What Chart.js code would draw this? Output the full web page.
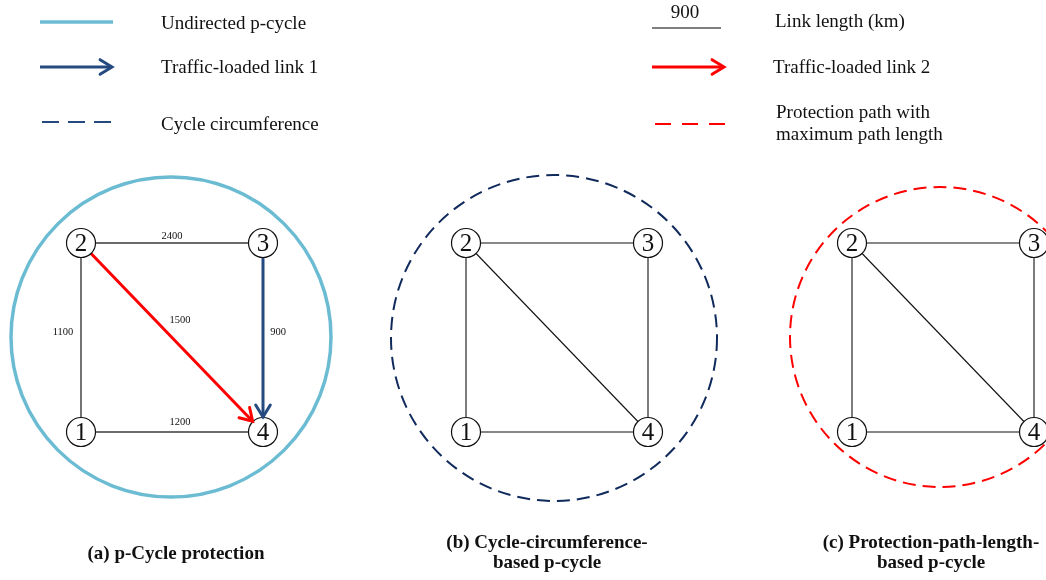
<!DOCTYPE html>
<html>
<head>
<meta charset="utf-8">
<script src="https://cdn.jsdelivr.net/npm/chart.js@4.4.1/dist/chart.umd.min.js"></script>
<style>
  html, body { margin: 0; padding: 0; background: #fff; }
  #wrap { width: 1046px; height: 580px; }
</style>
</head>
<body>
<div id="wrap"><canvas id="diagram"></canvas></div>
<script>
// network: 4 nodes, drawn three times (one per panel)
const nodeLabels = ["1", "2", "3", "4"];
const nodeX = [81, 81, 263, 263];
const nodeY = [432, 243, 243, 432];
const panelShift = [0, 385, 771];
const nodeRadius = 14.5;

const links = [[1, 2], [2, 3], [3, 4], [1, 4], [2, 4]];
const linkLengths = [1100, 2400, 900, 1200, 1500];
const linkLabelX = [63, 172, 278, 180, 180];
const linkLabelY = [332, 236, 332, 422, 320];
const trafficLink1 = [3, 4];
const trafficLink2 = [2, 4];

// p-cycles
const cycleCenterX = [171, 554, 940];
const cycleCenterY = [337, 338, 337];
const cycleRadius = [160, 163, 150];

const captions = [
  ["(a) p-Cycle protection"],
  ["(b) Cycle-circumference-", "based p-cycle"],
  ["(c) Protection-path-length-", "based p-cycle"],
];
const captionX = [176, 547, 931];
const captionBase = [[559], [548, 568], [548, 568]];

const legendLeft = ["Undirected p-cycle", "Traffic-loaded link 1", "Cycle circumference"];
const legendLeftBase = [29, 73, 130];
const legendRight = ["Link length (km)", "Traffic-loaded link 2", "Protection path with", "maximum path length"];
const legendRightX = [775, 773, 776, 776];
const legendRightBase = [27, 73, 118, 140];

const CYAN = "#6bbcd3";
const NAVY = "#244a80";
const DARK_NAVY = "#102a5c";
const RED = "#ff0000";

const pt = (n, p) => ({ x: nodeX[n - 1] + panelShift[p], y: nodeY[n - 1] });

// segment between two nodes, trimmed to node borders
function trimmed(a, b, p) {
  const s = pt(a, p), e = pt(b, p);
  const len = Math.hypot(e.x - s.x, e.y - s.y);
  const ux = (e.x - s.x) / len, uy = (e.y - s.y) / len;
  return [
    { x: s.x + ux * nodeRadius, y: s.y + uy * nodeRadius },
    { x: e.x - ux * (nodeRadius + 0.5), y: e.y - uy * (nodeRadius + 0.5) },
  ];
}

const isSame = (l, t) => l[0] === t[0] && l[1] === t[1];

const datasets = [];

// node circles (on top)
const nodePoints = [];
panelShift.forEach((_, p) => nodeLabels.forEach((_, i) => nodePoints.push(pt(i + 1, p))));
datasets.push({
  data: nodePoints,
  pointRadius: nodeRadius,
  pointBackgroundColor: "#fff",
  pointBorderColor: "#111",
  pointBorderWidth: 1.2,
  order: 0,
});

// plain links
panelShift.forEach((_, p) => {
  links.forEach((l) => {
    if (p === 0 && (isSame(l, trafficLink1) || isSame(l, trafficLink2))) return;
    datasets.push({
      data: [pt(l[0], p), pt(l[1], p)],
      showLine: true,
      pointRadius: 0,
      borderColor: p === 0 ? "#3a3a3a" : "#111",
      borderWidth: p === 0 ? 1.4 : 1.1,
      order: 5,
    });
  });
});

// traffic-loaded links (arrows)
datasets.push({
  data: trimmed(trafficLink1[0], trafficLink1[1], 0),
  showLine: true, pointRadius: 0, borderColor: NAVY, borderWidth: 3, order: 3, arrow: true,
});
datasets.push({
  data: trimmed(trafficLink2[0], trafficLink2[1], 0),
  showLine: true, pointRadius: 0, borderColor: RED, borderWidth: 3, order: 3, arrow: true,
});

// legend samples
datasets.push({ data: [{ x: 40, y: 22 }, { x: 113, y: 22 }], showLine: true, pointRadius: 0, borderColor: CYAN, borderWidth: 3.5, order: 5 });
datasets.push({ data: [{ x: 40, y: 67 }, { x: 112, y: 67 }], showLine: true, pointRadius: 0, borderColor: NAVY, borderWidth: 3, order: 5, arrow: true });
datasets.push({ data: [{ x: 42, y: 122 }, { x: 116, y: 122 }], showLine: true, pointRadius: 0, borderColor: NAVY, borderWidth: 2, borderDash: [17, 9], order: 5 });
datasets.push({ data: [{ x: 652, y: 28 }, { x: 721, y: 28 }], showLine: true, pointRadius: 0, borderColor: "#555", borderWidth: 1.5, order: 5 });
datasets.push({ data: [{ x: 652, y: 67 }, { x: 724, y: 67 }], showLine: true, pointRadius: 0, borderColor: RED, borderWidth: 3, order: 5, arrow: true });
datasets.push({ data: [{ x: 655, y: 124 }, { x: 728, y: 124 }], showLine: true, pointRadius: 0, borderColor: RED, borderWidth: 2, borderDash: [16, 11], order: 5 });

const diagramPlugin = {
  id: "diagram",
  beforeDatasetsDraw(chart) {
    const { ctx, scales: { x, y } } = chart;
    const styles = [
      { color: CYAN, width: 3.5, dash: [] },
      { color: DARK_NAVY, width: 2, dash: [13, 7] },
      { color: RED, width: 2, dash: [13, 7] },
    ];
    ctx.save();
    cycleCenterX.forEach((cx, i) => {
      const px = x.getPixelForValue(cx), py = y.getPixelForValue(cycleCenterY[i]);
      const r = x.getPixelForValue(cx + cycleRadius[i]) - px;
      ctx.beginPath();
      ctx.arc(px, py, r, 0, Math.PI * 2);
      ctx.strokeStyle = styles[i].color;
      ctx.lineWidth = styles[i].width;
      ctx.setLineDash(styles[i].dash);
      ctx.stroke();
    });
    ctx.restore();
  },
  afterDatasetsDraw(chart) {
    const { ctx, scales: { x, y } } = chart;
    ctx.save();
    // arrow heads
    chart.data.datasets.forEach((ds, i) => {
      if (!ds.arrow) return;
      const pts = chart.getDatasetMeta(i).data;
      const a = pts[0], b = pts[pts.length - 1];
      const ang = Math.atan2(b.y - a.y, b.x - a.x);
      const len = 14, spread = 0.55;
      ctx.beginPath();
      ctx.moveTo(b.x - len * Math.cos(ang - spread), b.y - len * Math.sin(ang - spread));
      ctx.lineTo(b.x, b.y);
      ctx.lineTo(b.x - len * Math.cos(ang + spread), b.y - len * Math.sin(ang + spread));
      ctx.strokeStyle = ds.borderColor;
      ctx.lineWidth = ds.borderWidth;
      ctx.lineCap = "round";
      ctx.lineJoin = "miter";
      ctx.setLineDash([]);
      ctx.stroke();
    });

    ctx.fillStyle = "#111";
    ctx.textAlign = "center";
    ctx.textBaseline = "middle";

    // node numbers
    ctx.font = "25px 'Liberation Serif', 'Times New Roman', serif";
    chart.getDatasetMeta(0).data.forEach((el, k) => {
      ctx.fillText(nodeLabels[k % 4], el.x, el.y + 1);
    });

    // link lengths (panel a)
    ctx.font = "10.5px 'Liberation Serif', serif";
    linkLengths.forEach((v, i) => {
      ctx.fillText(String(v), x.getPixelForValue(linkLabelX[i]), y.getPixelForValue(linkLabelY[i]));
    });

    // legend
    ctx.textBaseline = "alphabetic";
    ctx.font = "19px 'Liberation Serif', serif";
    ctx.fillText("900", x.getPixelForValue(685), y.getPixelForValue(18));
    ctx.textAlign = "left";
    legendLeft.forEach((t, i) => {
      ctx.fillText(t, x.getPixelForValue(161), y.getPixelForValue(legendLeftBase[i]));
    });
    legendRight.forEach((t, i) => {
      ctx.fillText(t, x.getPixelForValue(legendRightX[i]), y.getPixelForValue(legendRightBase[i]));
    });

    // captions
    ctx.textAlign = "center";
    ctx.font = "bold 19px 'Liberation Serif', serif";
    captions.forEach((lines, i) => {
      lines.forEach((t, j) => {
        ctx.fillText(t, x.getPixelForValue(captionX[i]), y.getPixelForValue(captionBase[i][j]));
      });
    });
    ctx.restore();
  },
};

new Chart(document.getElementById("diagram"), {
  type: "scatter",
  data: { datasets },
  options: {
    responsive: true,
    maintainAspectRatio: false,
    animation: false,
    layout: { padding: 0, autoPadding: false },
    plugins: { legend: { display: false }, tooltip: { enabled: false } },
    scales: {
      x: { type: "linear", min: 0, max: 1046, display: false },
      y: { type: "linear", min: 0, max: 580, reverse: true, display: false },
    },
  },
  plugins: [diagramPlugin],
});
</script>
</body>
</html>
